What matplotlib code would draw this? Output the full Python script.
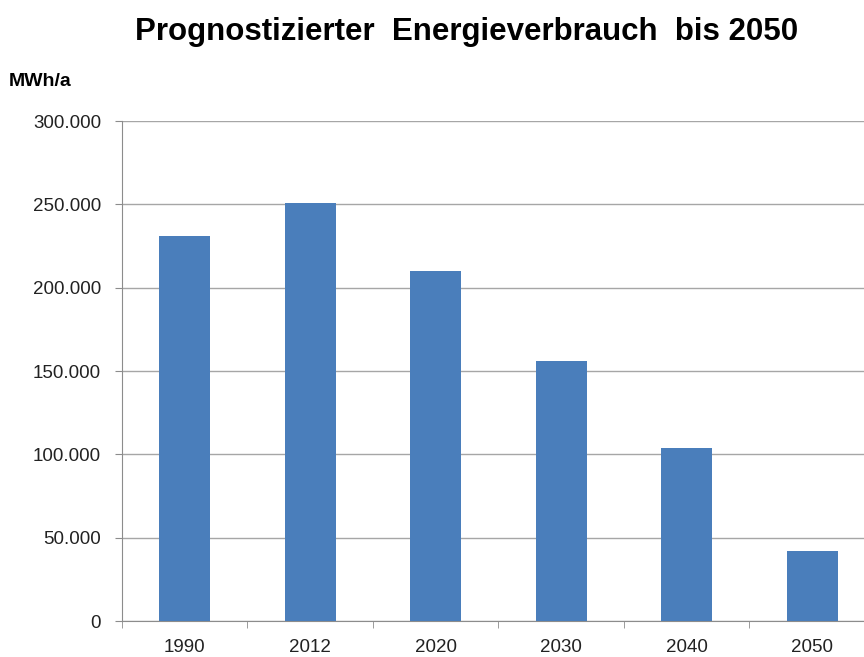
import matplotlib.pyplot as plt
from matplotlib.ticker import FuncFormatter, FixedLocator

plt.rcParams['font.family'] = ['Liberation Sans', 'DejaVu Sans']

years = ['1990', '2012', '2020', '2030', '2040', '2050']
verbrauch = [231000, 251000, 210000, 156000, 104000, 42000]

fig = plt.figure(figsize=(8.64, 6.57), dpi=100)
ax = fig.add_axes([122 / 864, 36 / 657, 753 / 864, 500 / 657])

x = range(len(years))
ax.bar(x, verbrauch, width=0.41, color='#4a7ebb', zorder=3)

ax.set_xlim(-0.5, len(years) - 0.5)
ax.set_ylim(0, 300000)
ax.set_yticks(range(0, 300001, 50000))
ax.yaxis.set_major_formatter(FuncFormatter(lambda v, p: '0' if v == 0 else f'{int(v):,}'.replace(',', '.')))
ax.set_xticks(list(x))
ax.set_xticklabels(years)
ax.xaxis.set_minor_locator(FixedLocator([i + 0.5 for i in range(-1, len(years))]))

ax.grid(axis='y', color='#a6a6a6', linewidth=1, zorder=0)
for s in ['top', 'right']:
    ax.spines[s].set_visible(False)
for s in ['left', 'bottom']:
    ax.spines[s].set_color('#8c8c8c')

ax.tick_params(axis='y', length=5, color='#8c8c8c', labelsize=13.5, pad=10, labelcolor='#222222')
ax.tick_params(axis='x', which='major', length=0, labelsize=13.5, pad=13, labelcolor='#222222')
ax.tick_params(axis='x', which='minor', length=5, color='#8c8c8c')

fig.text(0.54, 0.952, 'Prognostizierter  Energieverbrauch  bis 2050', ha='center', va='center',
         fontsize=22.5, fontweight='bold')
fig.text(0.010, 0.876, 'MWh/a', ha='left', va='center', fontsize=14, fontweight='bold')

fig.savefig('out.png', dpi=100)
